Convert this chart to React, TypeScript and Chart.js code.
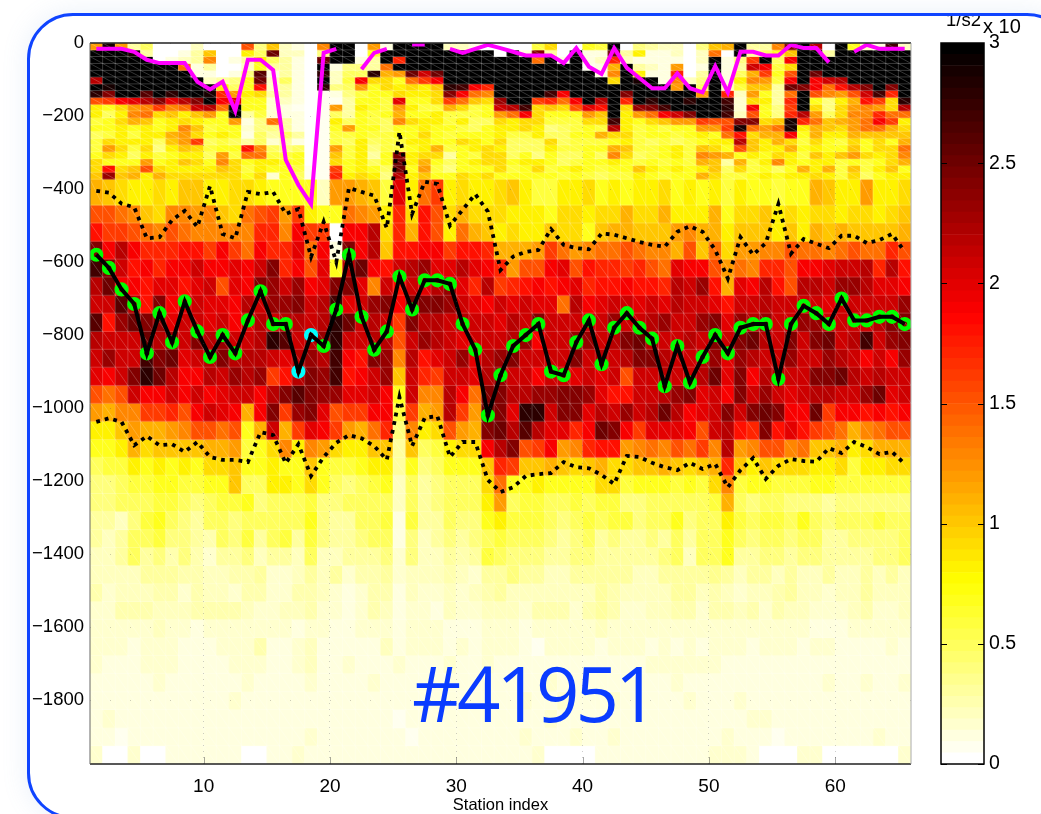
import React, { useEffect, useRef } from "react";
import { Chart, registerables } from "chart.js";

Chart.register(...registerables);

const stations = Array.from({ length: 65 }, (_, i) => i + 1);
const xTickValues = [10, 20, 30, 40, 50, 60];
const yTickValues = [0, -200, -400, -600, -800, -1000, -1200, -1400, -1600, -1800];
const colorbarTicks = [0, 0.5, 1, 1.5, 2, 2.5, 3];

const depthEdges = [0, -19, -37, -56, -75, -93, -112, -130, -149, -168, -186, -205, -224, -242, -261, -279, -298, -317, -335, -354, -373,
  -444, -493, -543, -592, -641, -691, -740, -790, -839, -888, -938, -987, -1036, -1086, -1135, -1184, -1234, -1283, -1333, -1382, -1431, -1481, -1530, -1579, -1629, -1678, -1727, -1777, -1826, -1876, -1925, -1975];

// Top layer, one profile per station, in tenths of the colour-bar unit
const topProfiles = [
  [12,30,30,30,30,22,30,28,15,8,8,6,7,5,6,6,7,9,9,10],
  [29,30,30,30,30,30,29,24,16,7,5,7,7,6,9,12,9,7,18,23],
  [12,30,30,30,30,30,30,30,19,9,8,9,8,8,8,9,8,7,9,10],
  [3,29,30,30,30,30,30,30,20,12,13,11,7,6,8,6,5,7,10,11],
  [5,3,30,30,30,30,30,26,22,13,14,10,8,8,8,9,8,12,15,8],
  [0,0,0,30,30,30,30,30,24,16,9,7,7,8,5,4,6,7,9,11],
  [0,0,1,30,30,30,30,28,20,13,10,8,8,11,10,8,7,8,8,9],
  [0,1,2,14,30,30,30,30,22,14,8,9,13,12,12,10,8,10,8,9],
  [2,3,3,1,1,30,30,30,24,21,10,8,10,9,16,9,8,9,8,9],
  [0,10,13,3,1,2,30,29,30,22,12,7,6,7,5,6,5,7,8,9],
  [0,0,0,0,0,3,8,17,19,14,7,7,7,8,6,7,12,13,10,9],
  [0,0,1,0,1,4,5,12,20,30,30,12,7,7,5,7,6,9,9,9],
  [15,8,3,2,4,7,7,8,7,7,3,1,1.5,1,3,18,14,7,6,7],
  [4,5,8,7,26,25,18,9,7,7,6,4,4,5,5,13,14,8,8,9],
  [10,25,5,3,1,2,2,3,1.5,1.5,1.5,14,4,3,1.5,5,6,8,7,1.5],
  [2,2,3,3,3,5,3,3,2,1,1,3,3,5,3,4,6,7,7,7],
  [1,2,1,1,1,1,1,1,1,0.5,1,1,1,3,1,5,7,7,6,5],
  [0,0,0,0,0,0,0,0,0,0,0,0,0,0,0,0,0,0,0.5,0.5],
  [13,4,25,30,28,30,28,0.5,0.5,0.5,0.5,0.5,0.5,0.5,0.5,0.5,0.5,0.5,0.5,0.5],
  [30,30,30,1,2,2,4,1,0.5,12,5,8,7,6,6,12,10,9,16,17],
  [30,30,30,4,5,6,5,4,3,3,3,5,12,6,5,6,6,7,7,8],
  [0,0,1,4,5,19,12,6,7,8,7,7,7,7,8,8,8,8,8,9],
  [12,7,3,3,28,9,7,7,7,7,6,6,7,6,5,4,3,5,7,8],
  [1,30,30,14,11,9,9,7,6,6,7,5,5,6,6,6,7,7,5,4],
  [30,30,17,30,12,7,8,9,20,12,11,13,7,7,6,6,24,25,25,22],
  [30,30,30,30,25,14,9,8,7,8,7,9,7,7,8,7,8,8,7,8],
  [30,30,30,30,21,16,8,8,7,6,7,8,8,9,8,8,9,11,12,10],
  [30,30,30,30,25,19,10,9,9,6,8,8,7,7,7,11,9,7,6,7],
  [2,30,30,30,30,30,28,24,16,11,6,6,7,6,7,6,3,5,4,7],
  [2,30,30,30,30,30,27,19,14,9,6,8,6,7,9,7,7,7,7,9],
  [1,30,30,30,30,30,19,14,10,6,6,5,5,7,8,8,6,8,7,8],
  [0,30,30,30,30,30,17,13,9,7,7,5,7,7,7,9,9,9,7,9],
  [0,0,30,30,30,30,30,30,23,21,12,9,8,8,9,8,9,9,9,7],
  [0,30,30,30,30,30,30,30,30,22,14,8,8,6,5,5,5,7,6,7],
  [0,1,30,30,30,30,30,30,30,27,19,9,9,6,5,5,7,8,7,7],
  [6,24,14,30,30,30,30,30,16,9,9,9,8,8,5,5,4,8,9,7],
  [9,3,30,30,30,30,30,27,17,10,7,6,4,5,9,8,7,7,6,7],
  [0,0,1,30,30,30,30,19,14,9,7,6,5,5,5,6,5,5,7,6],
  [0,30,30,30,30,30,30,30,19,15,7,6,6,7,6,6,5,6,8,7],
  [7,1,1,0.5,30,30,30,30,30,20,12,9,7,7,6,7,7,7,7,6],
  [6,1,2,1,1,30,30,30,22,18,10,9,6,11,6,7,5,7,6,5],
  [30,25,17,11,13,9,30,30,30,30,30,27,22,9,7,11,13,8,7,6],
  [0,3,2,30,30,30,30,24,17,9,8,8,8,9,8,10,9,7,7,6],
  [4,8,1,3,8,29,30,30,30,23,12,7,6,6,6,6,5,6,10,8],
  [3,1,1,2,1,30,30,30,28,24,14,9,7,7,5,6,6,7,8,7],
  [2,1,1,1,1,1,30,30,30,27,19,10,6,7,6,7,7,6,7,6],
  [2,2,1,12,17,13,12,30,30,30,21,12,7,6,5,8,8,7,8,7],
  [0,0,0,0,0,2,30,30,28,30,24,12,7,7,6,6,6,6,7,7],
  [4,2,2,1,3,4,5,12,30,30,30,16,12,8,7,10,13,11,8,11],
  [10,14,30,30,30,30,30,30,30,30,30,15,12,7,8,9,12,10,10,9],
  [11,0,1,1,1,1,2,17,27,28,27,15,16,14,8,7,11,3,5,6],
  [30,30,4,3,5,8,6,2,1.5,1.5,2,24,29,18,22,15,7,11,9,6],
  [3,3,16,21,11,13,10,12,9,19,15,24,14,9,10,10,8,6,6,7],
  [3,5,30,19,16,12,10,7,8,7,7,9,12,11,8,8,7,8,7,8],
  [13,7,5,6,7,6,3,3,3,4,4,10,14,11,11,8,9,13,5,7],
  [24,10,19,9,15,19,25,14,17,16,17,29,29,19,9,11,8,8,7,8],
  [30,30,30,30,30,30,24,30,30,30,22,17,8,7,6,7,6,7,11,8],
  [22,30,30,30,25,19,19,15,7,9,12,14,11,11,9,8,10,8,8,9],
  [0,3,30,30,30,21,14,13,4,4,5,10,10,8,7,7,8,8,11,8],
  [30,30,30,30,30,22,18,12,8,9,9,11,9,8,6,7,10,6,6,6],
  [7,30,30,30,30,30,22,15,11,12,13,12,12,11,9,10,12,7,10,9],
  [2,30,30,30,30,30,24,21,18,13,13,14,14,10,7,7,9,6,6,5],
  [1,30,30,30,30,30,30,27,16,12,17,19,14,10,9,9,8,7,8,7],
  [27,30,30,30,30,30,24,17,9,9,14,16,11,10,7,9,9,9,10,8],
  [2,30,30,30,30,30,30,30,28,22,14,8,9,10,11,14,13,11,7,8],
];

// Lower layers, one row per depth bin from -373 down to -1975, in the same tenths
const row373 = [11,10,9,8,8,9,8,10,10,8,8,9,9,8,7,7,7,7,2,12,12,11,10,6,20,8,14,16,8,9,8,8,9,10,8,6,6,8,8,9,7,8,7,8,8,9,7,8,7,8,6,8,7,7,6,7,7,11,10,8,8,12,8,8,9];
const row444 = [15,15,14,13,10,9,13,13,12,13,10,9,14,15,16,12,16,8,7,7,14,13,12,8,17,9,18,15,9,11,9,9,9,8,8,8,7,9,9,8,9,9,11,9,9,11,8,8,8,11,7,9,9,10,8,9,8,9,9,8,9,9,8,9,10];
const row493 = [18,16,16,15,14,13,15,14,13,13,13,13,13,17,17,13,19,16,16,0,19,19,22,9,17,11,18,15,8,14,11,10,8,9,8,8,10,9,9,7,10,11,11,10,10,10,12,13,11,11,8,10,10,10,8,10,8,11,10,11,10,10,10,10,11];
const row543 = [24,19,22,19,17,17,17,18,18,16,19,16,14,19,17,17,20,14,19,1,24,19,22,10,18,18,19,19,16,18,18,17,11,11,11,12,16,14,12,13,14,14,15,14,13,13,11,15,10,14,9,12,12,13,13,15,14,14,13,14,15,14,14,17,15];
const row592 = [27,24,21,18,19,17,19,19,21,19,19,20,19,21,24,17,19,15,20,7,22,25,19,18,21,22,23,20,20,22,20,19,17,12,15,15,19,20,15,18,17,17,16,17,15,14,20,19,19,15,12,14,13,17,17,15,19,19,20,21,21,22,17,22,18];
const row641 = [22,25,19,19,18,20,20,18,20,21,15,20,19,24,23,21,23,19,20,24,24,20,13,21,18,21,20,22,23,20,17,22,16,17,18,19,18,19,20,17,18,18,19,18,18,17,22,21,23,18,11,20,19,22,18,15,22,22,21,23,23,22,20,20,19];
const row691 = [21,21,26,22,18,24,19,20,21,20,20,19,22,21,23,23,24,21,22,27,20,21,23,24,19,24,24,24,23,21,20,19,21,20,21,20,20,14,22,19,20,21,21,20,21,20,22,21,21,20,18,21,21,22,21,21,21,21,20,21,21,21,21,21,23];
const row740 = [26,18,23,25,24,23,20,21,21,20,21,19,20,22,21,22,22,21,22,28,25,21,22,21,16,24,22,22,21,22,21,21,20,22,21,24,21,21,21,21,21,23,21,21,22,23,21,21,23,24,20,23,22,23,21,21,23,23,21,21,21,21,22,24,24];
const row790 = [22,21,21,21,25,22,23,21,24,22,23,21,21,22,28,26,21,22,23,28,21,21,22,22,15,21,23,22,21,20,21,21,21,22,23,19,21,21,23,23,21,22,24,25,22,21,21,22,21,24,21,24,25,22,21,24,21,24,25,21,22,27,21,23,24];
const row839 = [21,23,21,21,27,24,25,20,21,22,24,22,22,22,21,20,22,23,22,27,19,18,24,23,13,22,18,20,21,23,20,22,23,24,21,21,21,21,24,21,22,21,22,24,24,22,21,21,22,23,20,23,22,21,21,23,21,21,23,22,21,19,21,19,23];
const row888 = [20,19,21,24,28,25,22,19,19,22,21,23,22,23,16,18,22,24,23,27,18,19,21,23,10,21,17,16,21,21,20,22,23,21,21,19,21,21,20,21,20,21,15,21,21,22,21,21,22,25,20,24,19,22,22,21,21,24,24,25,22,21,22,21,21];
const row938 = [15,14,15,21,19,19,21,19,21,19,20,21,21,19,22,24,26,24,23,23,20,20,21,19,7,21,13,13,22,19,14,24,24,22,22,23,23,24,24,23,20,18,18,21,21,22,23,24,20,21,19,24,21,23,21,20,21,22,22,21,21,23,25,20,21];
const row987 = [12,11,13,13,16,16,17,15,19,21,20,19,11,19,24,16,23,24,20,15,16,16,19,19,6,16,11,12,22,16,12,25,24,20,28,28,21,24,24,20,22,21,23,21,22,25,22,19,20,21,24,21,24,25,24,19,19,25,16,19,19,18,19,18,19];
const row1036 = [8,8,10,12,11,11,12,13,15,15,14,15,7,11,21,11,16,20,19,16,12,11,14,17,4,13,8,9,15,12,11,24,25,22,26,22,20,20,17,19,25,24,19,16,20,20,20,19,15,21,22,18,17,24,18,20,18,16,15,14,11,13,14,15,15];
const row1086 = [7,7,8,11,9,10,10,10,10,11,11,12,6,7,9,13,8,13,12,9,8,8,10,10,3,10,5,6,8,9,9,19,22,24,15,16,19,12,13,17,18,18,12,13,14,13,15,14,16,13,22,12,13,15,15,13,14,10,10,11,8,9,11,11,11];
const row1135 = [5,6,6,8,7,8,7,8,7,9,9,10,7,7,8,7,7,10,7,6,6,7,8,8,3,7,4,5,7,7,7,10,17,16,10,10,11,10,9,10,11,9,9,10,10,11,10,9,10,11,17,10,8,10,9,9,9,8,8,9,6,8,8,9,9];
const row1184 = [4,4,5,6,6,7,7,6,6,7,7,10,5,5,8,8,7,9,7,5,4,5,6,7,2,5,3,4,5,5,5,9,14,7,7,8,7,7,7,7,9,9,6,7,7,7,6,7,6,9,13,6,7,7,6,6,6,7,7,6,6,6,6,6,6];
const row1234 = [4,4,5,5,5,6,6,5,4,5,6,6,7,4,5,5,5,6,4,4,5,5,5,5,2,5,3,4,5,5,5,8,12,5,6,6,5,5,6,5,6,6,4,4,5,5,5,5,5,6,11,5,4,5,5,4,4,4,3,4,4,4,4,4,4];
const row1283 = [3,3,2,4,6,7,5,4,3,5,5,4,5,5,5,5,5,7,4,3,3,5,5,6,1,6,3,3,5,4,4,7,8,6,6,6,5,4,5,6,5,6,6,4,5,5,7,4,5,5,8,6,5,6,6,5,7,5,4,5,5,5,6,5,5];
const row1333 = [3,2,3,5,5,6,4,4,3,2.5,5,4,6,3,5,6,3,6,4,3,3,4,5,5,1,4,2,3,4,3,4,5,6,5,5,5,4,3,4,5,3,4,3,3,4,3,5,3,5,5,7,5,4,5,5,4,5,5,3,3,4,4,4,4,5];
const row1382 = [2,2,3,5,3,4,2.5,4,2.5,1.5,3,3,4,2,3,3,2,5,2,2,3,3,3,4,1.5,4,2,2,3,2.5,3,6,5,4,4,4,3,3,4,4,3,3,3,3,3,4,5,2,5,5,7,3,3,4,4,3,4,4,3,3,3,3,4,4,5];
const row1431 = [2,2,2,2,3,3,3,2.5,2.5,2,2,2.5,2.5,3,1.5,1.5,2,3,2,3,1.5,2.5,2.5,3,1.5,2,2,2,2.5,2,1.5,3,3,4,3,3,2,2,3,3,3,3,3,2,2,3,3,3,3,3.5,3,2,3,3,2,3,2,2,3,2,2,3,2,3,2];
const row1481 = [2.5,1.5,2,2,2,2.5,2.5,1.5,2.5,2,2,1.5,2.5,2.5,1.5,1.5,2.5,2.5,2,1.5,1,1.5,2.5,2.5,1,2,1.5,1.5,2,1.5,2,2.5,3,2,2,2,2,2,2,2,3,2.5,2,2,2,2,3,3,2,2.5,2,1.5,2,2,2.5,3,2,2,1.5,2,2,3,2,2,2];
const row1530 = [1.5,1.5,2.5,2.5,2.5,2,2,2,2.5,2.5,2.5,2.5,2,1.5,1.5,2,2,2.5,1.5,1.5,1,1.5,2.5,2,1,1.5,1.5,1,2,1.5,1.5,2,2,2,1.5,2.5,2.5,2.5,1.5,2.5,3,2.5,1.5,1.5,2,2,2.5,2.5,1.5,2.5,2.5,2,2.5,1.5,2.5,2,2,1.5,1.5,1.5,2,2.5,1.5,1.5,2];
const row1579 = [1.5,1.5,1.5,1.5,1.5,2,1.5,1.5,1,1.5,1.5,1.5,1.5,1.5,1.5,1.5,1,1.5,1.5,1,1,1.5,1.5,1.5,1,1.5,1.5,1.5,1,1,1,1.5,1.5,1.5,1,1.5,1.5,1.5,1.5,1.5,2,1.5,1.5,1.5,1.5,1.5,1.5,1.5,1.5,1.5,1.5,1.5,1.5,1.5,1.5,1.5,1.5,1,1,1,1.5,1.5,1.5,1.5,1.5];
const row1629 = [1.5,1.5,1.5,1,1.5,1.5,1.5,1,1,1,1.5,1.5,1.5,2.5,1,1,1.5,2,1,1,1,1,1,2,1,1.5,1.5,1.5,1,1.5,1,1.5,1.5,1.5,1,0.8,1.5,1.5,1.5,1.5,1,1.5,1.5,1.5,1,1.5,1,1.5,1,1.5,1.5,1.5,1,1.5,1.5,1.5,1,1.5,1.5,1,1,1,1,1.5,1];
const row1678 = [1.5,1,1,1,1.5,1.5,1.5,1,1,1,1,1.5,1.5,1.5,1,1,1.5,2,1,1,1.5,1,1,1,1.5,1,1,1,1.5,1,1,1.5,1,1,1,1,1,1,1,1,1,1,1,1,1.5,1.5,1.5,1.5,1.5,1.5,1,1,1,1,1,1,1,1,1,1,1,1,1,1,1];
const row1727 = [1,1,1,1,1,1.5,1,1,1,1,1,1,1.5,1,1,1,1,1.5,1,1,1,1,1.5,1,1,1,1,1,1,1,1,1,1,1,1,1,1.5,1,1,1,1,1,1,1,1,1,1.5,1,1,1,1,1,1,1,1,1,1,1,1.5,1,1,1.5,1,1,1.5];
const row1777 = [1,1,1,1,1,1,1,1,1,1,1,1.5,1,1,1,1,1,1,1,1,1,1,1,1,1,1,1,1,1,1,1,1,1,1,1.5,1,1,1.5,1,1,1,1.5,1,1,1,1,1,1.5,1,1,1,1.5,1,1,1,1,1,1,1,1,1,1,1,1,1];
const row1826 = [1,1.5,1,1,1,1,1,1,1,1,1,1,1,1,1,1,1,1,1,1,1,1,1,1,0.5,1,1,1,1,1,1,1,1,1,1,1,1.5,1,1,1,1,1,1,1,1,1,1,1,1,1,1,1,1.5,1.5,1,1,1,1,1,1,1,1,1,1,1];
const row1876 = [1,1,0.5,1,1,1,1,1,1,1,1,1,1,1,1,1,1,1.5,1,1,1,1,1,1,1,0.5,1,1,1,1,1,1,1,1,1.5,1,1,1,1.5,1,1,1.5,1,1,1,1,1,1,1,1,1.5,1,1,1,0.5,1,1,1,1,1,1,1,1.5,1,1];
const row1925 = [1.5,0,0,1.5,0,0,1,1,1,1,1,1,0,0,1,1,1.5,1,1,1,1,1,1,1,1,1,1,1,1,1,1,1,1,1,1,1.5,0,0,0,0,1,1,1,1,1,1,1,1,1,1.5,1.5,1.5,1,0,0,0,1.5,1.5,0,0,0,0,0,0,1.5];

const lowerRows = [row373,row444,row493,row543,row592,row641,row691,row740,row790,row839,row888,row938,row987,row1036,row1086,row1135,row1184,row1234,row1283,row1333,row1382,row1431,row1481,row1530,row1579,row1629,row1678,row1727,row1777,row1826,row1876,row1925];

// Line series, one value per station
const topLine = [-16,-16,-16,-24,-46,-55,-55,-55,-106,-127,-106,-186,-46,-46,-74,-320,-389,-441,-27,-16,null,-72,-27,-16,null,-4,-4,null,-16,-27,-16,-5,-14,-24,-34,-34,-34,-55,-14,-65,-85,-14,-68,-96,-124,-124,-83,-124,-135,-63,-135,-24,-24,-34,-34,-5,-14,-14,-53,null,-24,-5,-16,-16,-16];
const coreLine = [-580,-616,-675,-715,-850,-740,-820,-708,-790,-860,-800,-850,-760,-680,-770,-770,-900,-800,-830,-730,-580,-750,-840,-790,-640,-730,-650,-650,-660,-770,-840,-1020,-910,-830,-800,-770,-900,-910,-820,-760,-880,-780,-740,-780,-810,-940,-830,-930,-860,-800,-850,-780,-770,-770,-920,-770,-720,-740,-770,-700,-760,-760,-750,-750,-770];
const upperDotted = [-405,-410,-440,-450,-535,-532,-485,-460,-504,-392,-523,-535,-408,-414,-408,-468,-455,-586,-490,-600,-397,-408,-418,-507,-243,-468,-380,-386,-500,-457,-414,-462,-622,-585,-572,-567,-510,-553,-562,-565,-522,-525,-535,-545,-553,-558,-517,-502,-517,-567,-645,-532,-580,-548,-441,-577,-537,-550,-562,-528,-528,-548,-540,-523,-572];
const lowerDotted = [-1038,-1028,-1038,-1102,-1077,-1102,-1099,-1120,-1093,-1134,-1142,-1142,-1148,-1066,-1074,-1151,-1099,-1186,-1134,-1095,-1074,-1083,-1104,-1142,-970,-1104,-1027,-1022,-1134,-1093,-1093,-1197,-1230,-1217,-1186,-1181,-1178,-1148,-1162,-1165,-1183,-1208,-1131,-1134,-1150,-1162,-1170,-1150,-1167,-1153,-1217,-1170,-1137,-1194,-1158,-1140,-1145,-1147,-1110,-1123,-1093,-1107,-1126,-1120,-1153];
const cyanStations = [17, 18];

// Every row of the heat map, top to bottom
const grid = [
  ...Array.from({ length: 20 }, (_, k) => topProfiles.map((p) => p[k])),
  ...lowerRows,
];

// Reversed "hot" colour map with 64 steps over 0..3
function colorOf(v: number) {
  const level = Math.min(63, Math.floor((v / 3) * 64));
  const t = 1 - level / 63;
  const r = Math.min(1, t / 0.375);
  const g = Math.max(0, Math.min(1, (t - 0.375) / 0.375));
  const b = Math.max(0, Math.min(1, (t - 0.75) / 0.25));
  return `rgb(${Math.round(r * 255)},${Math.round(g * 255)},${Math.round(b * 255)})`;
}

const fontFamily = "'Liberation Sans', Arial, sans-serif";

const seamsAndFrame = {
  id: "seamsAndFrame",
  afterDatasetDraw(chart: any, args: any) {
    if (args.index !== 0) return;
    const { ctx, scales } = chart;
    const { x, y } = scales;
    ctx.save();
    ctx.lineWidth = 0.7;
    ctx.strokeStyle = "rgba(255,255,255,0.3)";
    ctx.beginPath();
    for (let r = 0; r < grid.length; r++) {
      const y0 = y.getPixelForValue(depthEdges[r]);
      const y1 = y.getPixelForValue(depthEdges[r + 1]);
      ctx.moveTo(x.left, y1);
      ctx.lineTo(x.right, y1);
      for (const s of stations) {
        const x0 = x.getPixelForValue(s);
        const x1 = x.getPixelForValue(s + 1);
        ctx.moveTo(x0, y0);
        ctx.lineTo(x1, y1);
        ctx.moveTo(x1, y0);
        ctx.lineTo(x1, y1);
      }
    }
    ctx.stroke();
    ctx.restore();
  },
  afterDraw(chart: any) {
    const { ctx, chartArea: a, scales } = chart;
    ctx.save();
    ctx.strokeStyle = "rgba(60,60,60,0.45)";
    ctx.lineWidth = 1;
    ctx.beginPath();
    for (const v of xTickValues) {
      const px = Math.round(scales.x.getPixelForValue(v)) + 0.5;
      ctx.moveTo(px, a.bottom);
      ctx.lineTo(px, a.bottom - 7);
    }
    ctx.stroke();
    ctx.strokeStyle = "#222";
    ctx.lineWidth = 1.5;
    ctx.beginPath();
    ctx.moveTo(a.left, a.top);
    ctx.lineTo(a.right, a.top);
    ctx.moveTo(a.left, a.bottom);
    ctx.lineTo(a.right, a.bottom);
    ctx.stroke();
    ctx.strokeStyle = "#666";
    ctx.lineWidth = 1;
    ctx.beginPath();
    ctx.moveTo(a.left, a.top);
    ctx.lineTo(a.left, a.bottom);
    ctx.stroke();
    ctx.strokeStyle = "#aaa";
    ctx.beginPath();
    ctx.moveTo(a.right, a.top);
    ctx.lineTo(a.right, a.bottom);
    ctx.stroke();
    ctx.restore();
  },
};

const colorbarFrame = {
  id: "colorbarFrame",
  afterDraw(chart: any) {
    const { ctx, chartArea: a, scales } = chart;
    ctx.save();
    ctx.strokeStyle = "#000";
    ctx.lineWidth = 1.5;
    ctx.strokeRect(a.left, a.top, a.right - a.left, a.bottom - a.top);
    ctx.beginPath();
    for (const v of colorbarTicks) {
      const py = Math.round(scales.y.getPixelForValue(v)) + 0.5;
      ctx.moveTo(a.left, py);
      ctx.lineTo(a.left + 6, py);
      ctx.moveTo(a.right, py);
      ctx.lineTo(a.right - 6, py);
    }
    ctx.lineWidth = 1;
    ctx.stroke();
    ctx.restore();
  },
};

const lineAt = (values: (number | null)[]) => values.map((v, i) => ({ x: stations[i] + 0.5, y: v }));

export default function App() {
  const mainRef = useRef<HTMLCanvasElement>(null);
  const barRef = useRef<HTMLCanvasElement>(null);

  useEffect(() => {
    const cellSets = grid.map((row, r) => ({
      type: "bar",
      order: 10,
      grouped: false,
      barPercentage: 1,
      categoryPercentage: 1,
      borderWidth: 0,
      backgroundColor: row.map((v) => colorOf(v / 10)),
      data: row.map((_, c) => ({ x: stations[c] + 0.5, y: [depthEdges[r + 1], depthEdges[r]] })),
    }));
    const main = new Chart(mainRef.current!, {
      type: "bar",
      data: {
        datasets: [
          ...cellSets,
          { type: "line", order: 4, data: lineAt(upperDotted), borderColor: "#000", borderWidth: 3.8, borderDash: [3.8, 5], pointRadius: 0, tension: 0 },
          { type: "line", order: 4, data: lineAt(lowerDotted), borderColor: "#000", borderWidth: 3.8, borderDash: [3.8, 5], pointRadius: 0, tension: 0 },
          { type: "line", order: 4, data: lineAt(topLine), borderColor: "#ff00ff", borderWidth: 4, pointRadius: 0, tension: 0, spanGaps: false },
          {
            type: "line", order: 3, data: lineAt(coreLine), showLine: false, pointRadius: 4.8, pointBorderWidth: 4.6,
            pointBackgroundColor: "rgba(0,0,0,0)",
            pointBorderColor: stations.map((s) => (cyanStations.includes(s) ? "#00ffff" : "#00ff00")),
          },
          { type: "line", order: 2, data: lineAt(coreLine), borderColor: "#000", borderWidth: 4, pointRadius: 0, tension: 0 },
        ],
      } as any,
      options: {
        animation: false,
        responsive: false,
        events: [],
        layout: { padding: { left: 0, top: 43, right: 130, bottom: 0 } },
        plugins: { legend: { display: false }, tooltip: { enabled: false } },
        scales: {
          x: {
            type: "linear",
            offset: false,
            min: 1,
            max: 66,
            grid: { z: 1, color: "rgba(90,90,90,0.3)", drawTicks: false, lineWidth: 1, offset: false },
            border: { display: false, dash: [1, 5] },
            afterBuildTicks: (s: any) => { s.ticks = xTickValues.map((value) => ({ value })); },
            afterFit: (s: any) => { s.height = 50; },
            ticks: { color: "#000", font: { family: fontFamily, size: 19 }, padding: 11, maxRotation: 0, autoSkip: false, callback: (v: any) => String(v) },
            title: { display: true, text: "Station index", color: "#000", font: { family: fontFamily, size: 16.5 }, padding: { top: 0, bottom: -1 } },
          },
          y: {
            type: "linear",
            min: -1975,
            max: 0,
            grid: { z: 1, color: "rgba(90,90,90,0.3)", drawTicks: false, lineWidth: 1 },
            border: { display: false, dash: [1, 19] },
            afterBuildTicks: (s: any) => { s.ticks = yTickValues.map((value) => ({ value })); },
            afterFit: (s: any) => { s.width = 90; },
            ticks: {
              color: "#000", font: { family: fontFamily, size: 18.5 }, padding: 6, autoSkip: false,
              callback: (v: any) => (v < 0 ? "\u2212" + Math.abs(v) : String(v)),
            },
          },
        },
      } as any,
      plugins: [seamsAndFrame],
    });

    const levels = Array.from({ length: 64 }, (_, i) => i);
    const bar = new Chart(barRef.current!, {
      type: "bar",
      data: {
        labels: ["c"],
        datasets: levels.map((i) => ({
          grouped: false,
          barPercentage: 1,
          categoryPercentage: 1,
          borderWidth: 0,
          backgroundColor: colorOf(((i + 0.5) / 64) * 3),
          data: [[(i / 64) * 3, ((i + 1) / 64) * 3]],
        })),
      } as any,
      options: {
        animation: false,
        responsive: false,
        events: [],
        layout: { padding: { left: 6, top: 43, right: 0, bottom: 50 } },
        plugins: { legend: { display: false }, tooltip: { enabled: false } },
        scales: {
          x: { display: false },
          y: {
            position: "right",
            min: 0,
            max: 3,
            grid: { display: false, drawTicks: false },
            border: { display: false },
            afterBuildTicks: (s: any) => { s.ticks = colorbarTicks.map((value) => ({ value })); },
            afterFit: (s: any) => { s.width = 57; },
            ticks: { color: "#000", font: { family: fontFamily, size: 19.5 }, padding: 5, autoSkip: false, callback: (v: any) => String(v) },
          },
        },
      } as any,
      plugins: [colorbarFrame],
    });

    return () => {
      main.destroy();
      bar.destroy();
    };
  }, []);

  return (
    <div style={{ position: "fixed", left: 0, top: 0, width: 1041, height: 814, overflow: "hidden", background: "#fff" }}>
      <div
        style={{
          position: "absolute", left: 27, top: 13, width: 1040, height: 800, boxSizing: "content-box",
          border: "3px solid #0f44ff", borderRadius: 46, boxShadow: "0 0 26px rgba(120,160,220,0.16)",
        }}
      />
      <div style={{ position: "absolute", left: 60, top: 812, width: 955, height: 2, background: "rgba(255,255,255,0.6)" }} />
      <canvas ref={mainRef} width={1041} height={814} style={{ position: "absolute", left: 0, top: 0 }} />
      <canvas ref={barRef} width={106} height={814} style={{ position: "absolute", left: 935, top: 0 }} />
      <div style={{ position: "absolute", left: 946, top: 16, width: 38, height: 12, overflow: "hidden" }}>
        <div style={{ position: "absolute", left: 0, top: -7, font: "18.5px 'Liberation Sans', sans-serif", color: "#000", whiteSpace: "nowrap" }}>1/s2</div>
      </div>
      <div style={{ position: "absolute", left: 983, top: 15, font: "20px 'Liberation Sans', sans-serif", color: "#000", whiteSpace: "nowrap" }}>x 10</div>
      <div
        style={{
          position: "absolute", left: 412, top: 641, font: "76px 'Open Sans', sans-serif", letterSpacing: -4,
          color: "#0a3cff", whiteSpace: "nowrap", lineHeight: "104px",
        }}
      >
        #41951
      </div>
    </div>
  );
}
